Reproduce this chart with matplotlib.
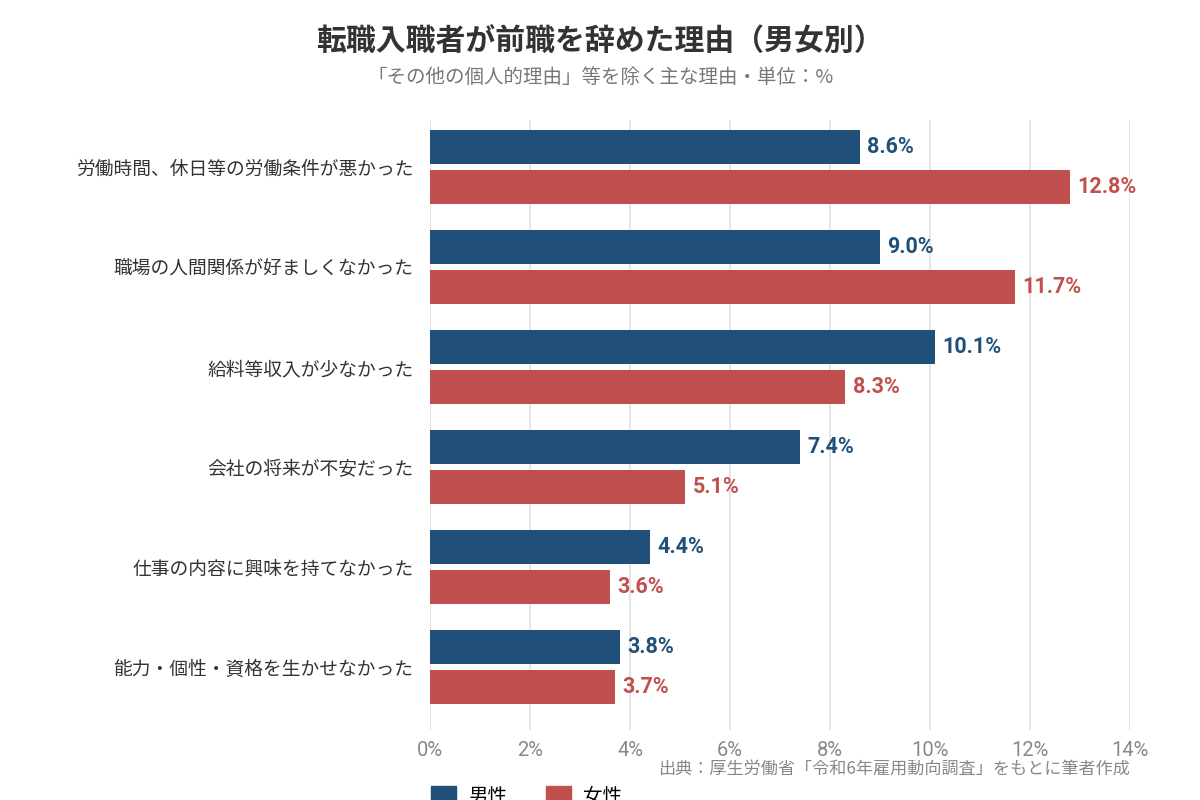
import numpy as np
import matplotlib
matplotlib.use("Agg")
import matplotlib.pyplot as plt
from matplotlib.patches import Patch

plt.rcParams['font.family'] = ['Noto Sans CJK JP', 'DejaVu Sans']

reasons = [
    "労働時間、休日等の労働条件が悪かった",
    "職場の人間関係が好ましくなかった",
    "給料等収入が少なかった",
    "会社の将来が不安だった",
    "仕事の内容に興味を持てなかった",
    "能力・個性・資格を生かせなかった",
]
male = [8.6, 9.0, 10.1, 7.4, 4.4, 3.8]
female = [12.8, 11.7, 8.3, 5.1, 3.6, 3.7]
xticks = [0, 2, 4, 6, 8, 10, 12, 14]

c_male = "#20507a"
c_female = "#c0504d"
num_font = ['Roboto', 'DejaVu Sans']

fig = plt.figure(figsize=(12, 8), dpi=100)
ax = fig.add_axes([430 / 1200, 70 / 800, 700 / 1200, 610 / 800])

y = np.arange(len(reasons))
h = 0.34
ax.barh(y - 0.2, male, height=h, color=c_male, zorder=3)
ax.barh(y + 0.2, female, height=h, color=c_female, zorder=3)

# value labels next to each bar
for yi, v in zip(y, male):
    ax.text(v + 0.15, yi - 0.2, f"{v:.1f}%", va="center", ha="left",
            fontsize=15.5, fontweight="bold", color=c_male, family=num_font)
for yi, v in zip(y, female):
    ax.text(v + 0.15, yi + 0.2, f"{v:.1f}%", va="center", ha="left",
            fontsize=15.5, fontweight="bold", color=c_female, family=num_font)

ax.set_ylim(len(reasons) - 1 + 0.63, -0.47)
ax.set_xlim(0, 14)
ax.set_yticks(y)
ax.set_yticklabels(reasons, fontsize=13.5, color="#333333")
ax.set_xticks(xticks)
ax.set_xticklabels([f"{t}%" for t in xticks], fontsize=14.5, color="#888888",
                   family=num_font)
ax.tick_params(length=0)
ax.tick_params(axis="y", pad=12)
ax.tick_params(axis="x", pad=8)
ax.grid(axis="x", color="#e6e6e6", linewidth=1.5, zorder=0)
for s in ax.spines.values():
    s.set_visible(False)

fig.text(600 / 1200, 1 - 42 / 800, "転職入職者が前職を辞めた理由（男女別）",
         ha="center", va="center", fontsize=21.5, fontweight="bold", color="#333333")
fig.text(600 / 1200, 1 - 77 / 800, "「その他の個人的理由」等を除く主な理由・単位：%",
         ha="center", va="center", fontsize=14, color="#777777")
fig.text(1130 / 1200, 1 - 769 / 800, "出典：厚生労働省「令和6年雇用動向調査」をもとに筆者作成",
         ha="right", va="center", fontsize=12.3, color="#888888")

handles = [Patch(color=c_male, label="男性"), Patch(color=c_female, label="女性")]
fig.legend(handles=handles, loc="center left", bbox_to_anchor=(421 / 1200, 4 / 800),
           ncol=2, frameon=False, fontsize=14, handlelength=1.3, handleheight=1.1,
           columnspacing=2.0, borderpad=0, handletextpad=0.6)

fig.savefig("out.png", dpi=100)
